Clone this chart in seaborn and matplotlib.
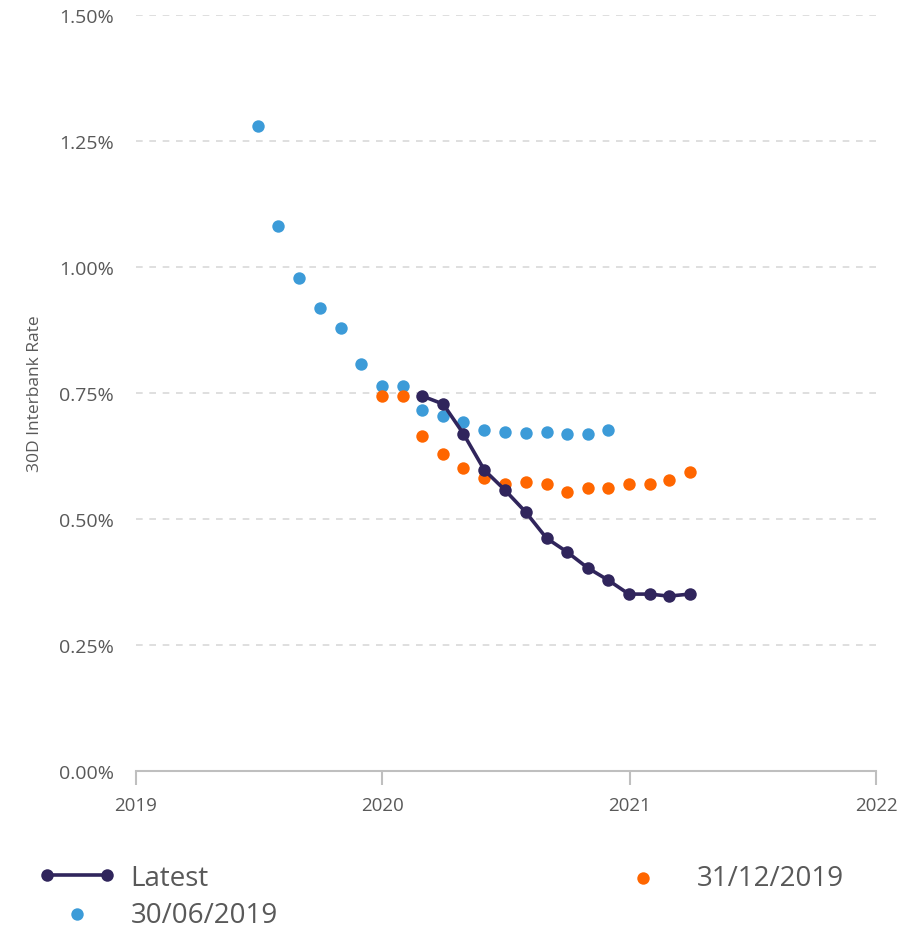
import matplotlib.pyplot as plt
import matplotlib.dates as mdates
from matplotlib.ticker import PercentFormatter, MultipleLocator
import pandas as pd
import seaborn as sns

# monthly curve values (%)
jun19_values = [1.280, 1.081, 0.978, 0.919, 0.879, 0.808, 0.764, 0.764, 0.716,
                0.704, 0.692, 0.677, 0.673, 0.671, 0.673, 0.669, 0.669, 0.677]
dec19_values = [0.744, 0.744, 0.665, 0.629, 0.601, 0.581, 0.569, 0.573, 0.569,
                0.554, 0.562, 0.562, 0.569, 0.569, 0.577, 0.593]
latest_values = [0.744, 0.728, 0.669, 0.597, 0.558, 0.514, 0.462, 0.435,
                 0.403, 0.379, 0.351, 0.351, 0.347, 0.351]

jun19_dates = pd.date_range('2019-06-30', periods=len(jun19_values), freq='ME')
dec19_dates = pd.date_range('2019-12-31', periods=len(dec19_values), freq='ME')
latest_dates = pd.date_range('2020-02-29', periods=len(latest_values), freq='ME')

navy = '#30255c'
orange = '#ff6600'
blue = '#3c9bd8'
text_color = '#595959'

sns.set_style('white')
plt.rcParams['font.family'] = ['Open Sans', 'DejaVu Sans']

fig = plt.figure(figsize=(9.13, 9.29), dpi=100)
ax = fig.add_axes([136 / 913, 1 - 772 / 929, 740 / 913, 756 / 929])

sns.lineplot(x=latest_dates, y=latest_values, ax=ax, color=navy, linewidth=2.6,
             marker='o', markersize=9, markeredgewidth=0, label='Latest', zorder=4)
sns.scatterplot(x=jun19_dates, y=jun19_values, ax=ax, color=blue, s=80,
                linewidth=0, label='30/06/2019', zorder=3)
sns.scatterplot(x=dec19_dates, y=dec19_values, ax=ax, color=orange, s=80,
                linewidth=0, label='31/12/2019', zorder=3)

ax.set_xlim(pd.Timestamp('2019-01-01'), pd.Timestamp('2022-01-01'))
ax.set_ylim(0, 1.5)
ax.xaxis.set_major_locator(mdates.YearLocator())
ax.xaxis.set_major_formatter(mdates.DateFormatter('%Y'))
ax.yaxis.set_major_locator(MultipleLocator(0.25))
ax.yaxis.set_major_formatter(PercentFormatter(decimals=2))

ax.grid(axis='y', color='#d9d9d9', linestyle=(0, (4, 4)), linewidth=1.2)
ax.grid(axis='x', visible=False)
for side in ['top', 'right', 'left']:
    ax.spines[side].set_visible(False)
ax.spines['bottom'].set_color('#bfbfbf')
ax.spines['bottom'].set_linewidth(1.5)

ax.tick_params(axis='x', direction='out', length=10, width=1.5, color='#bfbfbf',
               labelsize=13.5, labelcolor=text_color, pad=8, bottom=True)
ax.tick_params(axis='y', length=0, labelsize=14, labelcolor=text_color, pad=16)
ax.set_xlabel('')
ax.set_ylabel('30D Interbank Rate', fontsize=12.5, color=text_color, labelpad=11)

ax.get_legend().remove()
handles, labels = ax.get_legend_handles_labels()
fig.legend(handles, labels, ncol=2, loc='upper left', bbox_to_anchor=(0.03, 0.081),
           frameon=False, fontsize=20, labelcolor=text_color,
           numpoints=2, scatterpoints=1, handlelength=2.77, handletextpad=0.55,
           columnspacing=11.75, labelspacing=0.32, borderaxespad=0)

fig.savefig('out.png', dpi=100)
